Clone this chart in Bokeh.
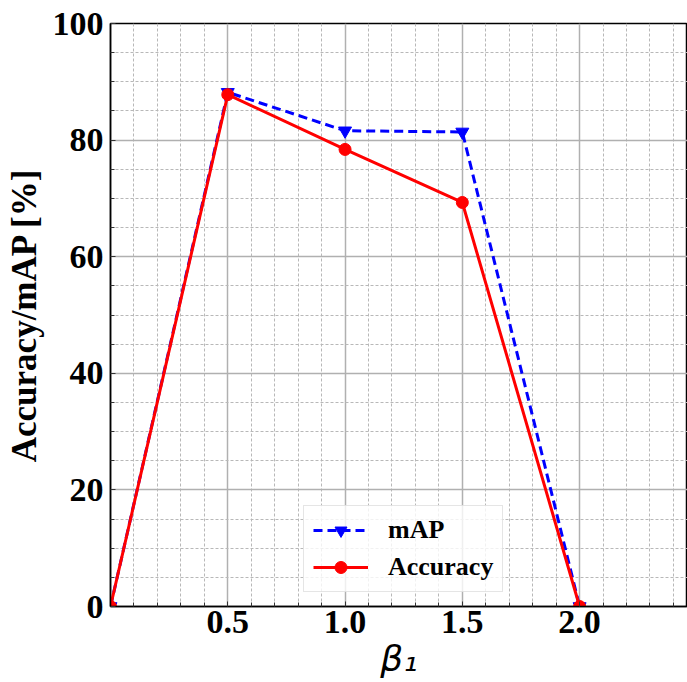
from bokeh.plotting import figure
from bokeh.models import FixedTicker, Range1d, Legend, LegendItem, PrintfTickFormatter
from bokeh.embed import file_html
from bokeh.resources import INLINE

beta = [0.0, 0.5, 1.0, 1.5, 2.0]
map_vals = [0.0, 88.2, 81.6, 81.4, 0.0]
acc_vals = [0.0, 87.8, 78.4, 69.3, 0.0]
x_ticks = [0.5, 1.0, 1.5, 2.0]
y_ticks = [0, 20, 40, 60, 80, 100]

x_minor = [round(i * 0.1, 1) for i in range(1, 25) if i % 5 != 0]
y_minor = [i * 5 for i in range(1, 20) if i % 4 != 0]

p = figure(width=687, height=682, output_backend="svg", toolbar_location=None,
           x_range=Range1d(0, 2.46), y_range=Range1d(0, 100),
           min_border_left=110, min_border_right=0, min_border_top=23, min_border_bottom=76)

p.xaxis.ticker = FixedTicker(ticks=x_ticks, minor_ticks=x_minor)
p.yaxis.ticker = FixedTicker(ticks=y_ticks, minor_ticks=y_minor)
p.xaxis.formatter = PrintfTickFormatter(format="%.1f")

for ax in (p.xaxis, p.yaxis):
    ax.major_label_text_font = "Liberation Serif"
    ax.major_label_text_font_style = "bold"
    ax.major_label_text_font_size = "34px"
    ax.major_label_text_color = "black"
    ax.axis_line_color = "black"
    ax.axis_line_width = 1.5
    ax.major_tick_out = 0
    ax.major_tick_in = 5
    ax.minor_tick_out = 0
    ax.minor_tick_in = 4
    ax.major_tick_line_color = "#333333"
    ax.minor_tick_line_color = "#333333"
    ax.axis_label_text_color = "black"

p.yaxis.axis_label = "Accuracy/mAP [%]"
p.yaxis.axis_label_text_font = "Liberation Serif"
p.yaxis.axis_label_text_font_style = "bold"
p.yaxis.axis_label_text_font_size = "35px"
p.yaxis.axis_label_standoff = 6
p.yaxis.major_label_standoff = 7

p.xaxis.axis_label = "β₁"
p.xaxis.axis_label_text_font = "DejaVu Sans"
p.xaxis.axis_label_text_font_style = "italic"
p.xaxis.axis_label_text_font_size = "36px"
p.xaxis.axis_label_standoff = 2
p.xaxis.major_label_standoff = 4

for g in (p.xgrid, p.ygrid):
    g.grid_line_color = "#b0b0b0"
    g.grid_line_width = 1.5
    g.minor_grid_line_color = "#b8b8b8"
    g.minor_grid_line_width = 1
    g.minor_grid_line_dash = "3 2"

p.xgrid.ticker = FixedTicker(ticks=x_ticks, minor_ticks=x_minor)
p.ygrid.ticker = FixedTicker(ticks=y_ticks, minor_ticks=y_minor)

p.outline_line_color = "black"
p.outline_line_width = 1.5

l1 = p.line(beta, map_vals, line_color="blue", line_width=3, line_dash="9 5")
m1 = p.scatter(beta, map_vals, marker="inverted_triangle", size=13, color="blue")
l2 = p.line(beta, acc_vals, line_color="red", line_width=3)
m2 = p.scatter(beta, acc_vals, marker="circle", size=12, color="red")

legend = Legend(items=[LegendItem(label="mAP", renderers=[l1, m1]),
                       LegendItem(label="Accuracy", renderers=[l2, m2])],
                location=(193, 14))
legend.label_text_font = "Liberation Serif"
legend.label_text_font_style = "bold"
legend.label_text_font_size = "26px"
legend.label_text_color = "black"
legend.glyph_width = 55
legend.glyph_height = 30
legend.label_standoff = 20
legend.spacing = 7
legend.padding = 9
legend.margin = 0
legend.border_line_color = "#cccccc"
legend.border_line_width = 1
legend.background_fill_alpha = 0.8
p.add_layout(legend, "center")

open("out.html", "w").write(file_html(p, INLINE))
